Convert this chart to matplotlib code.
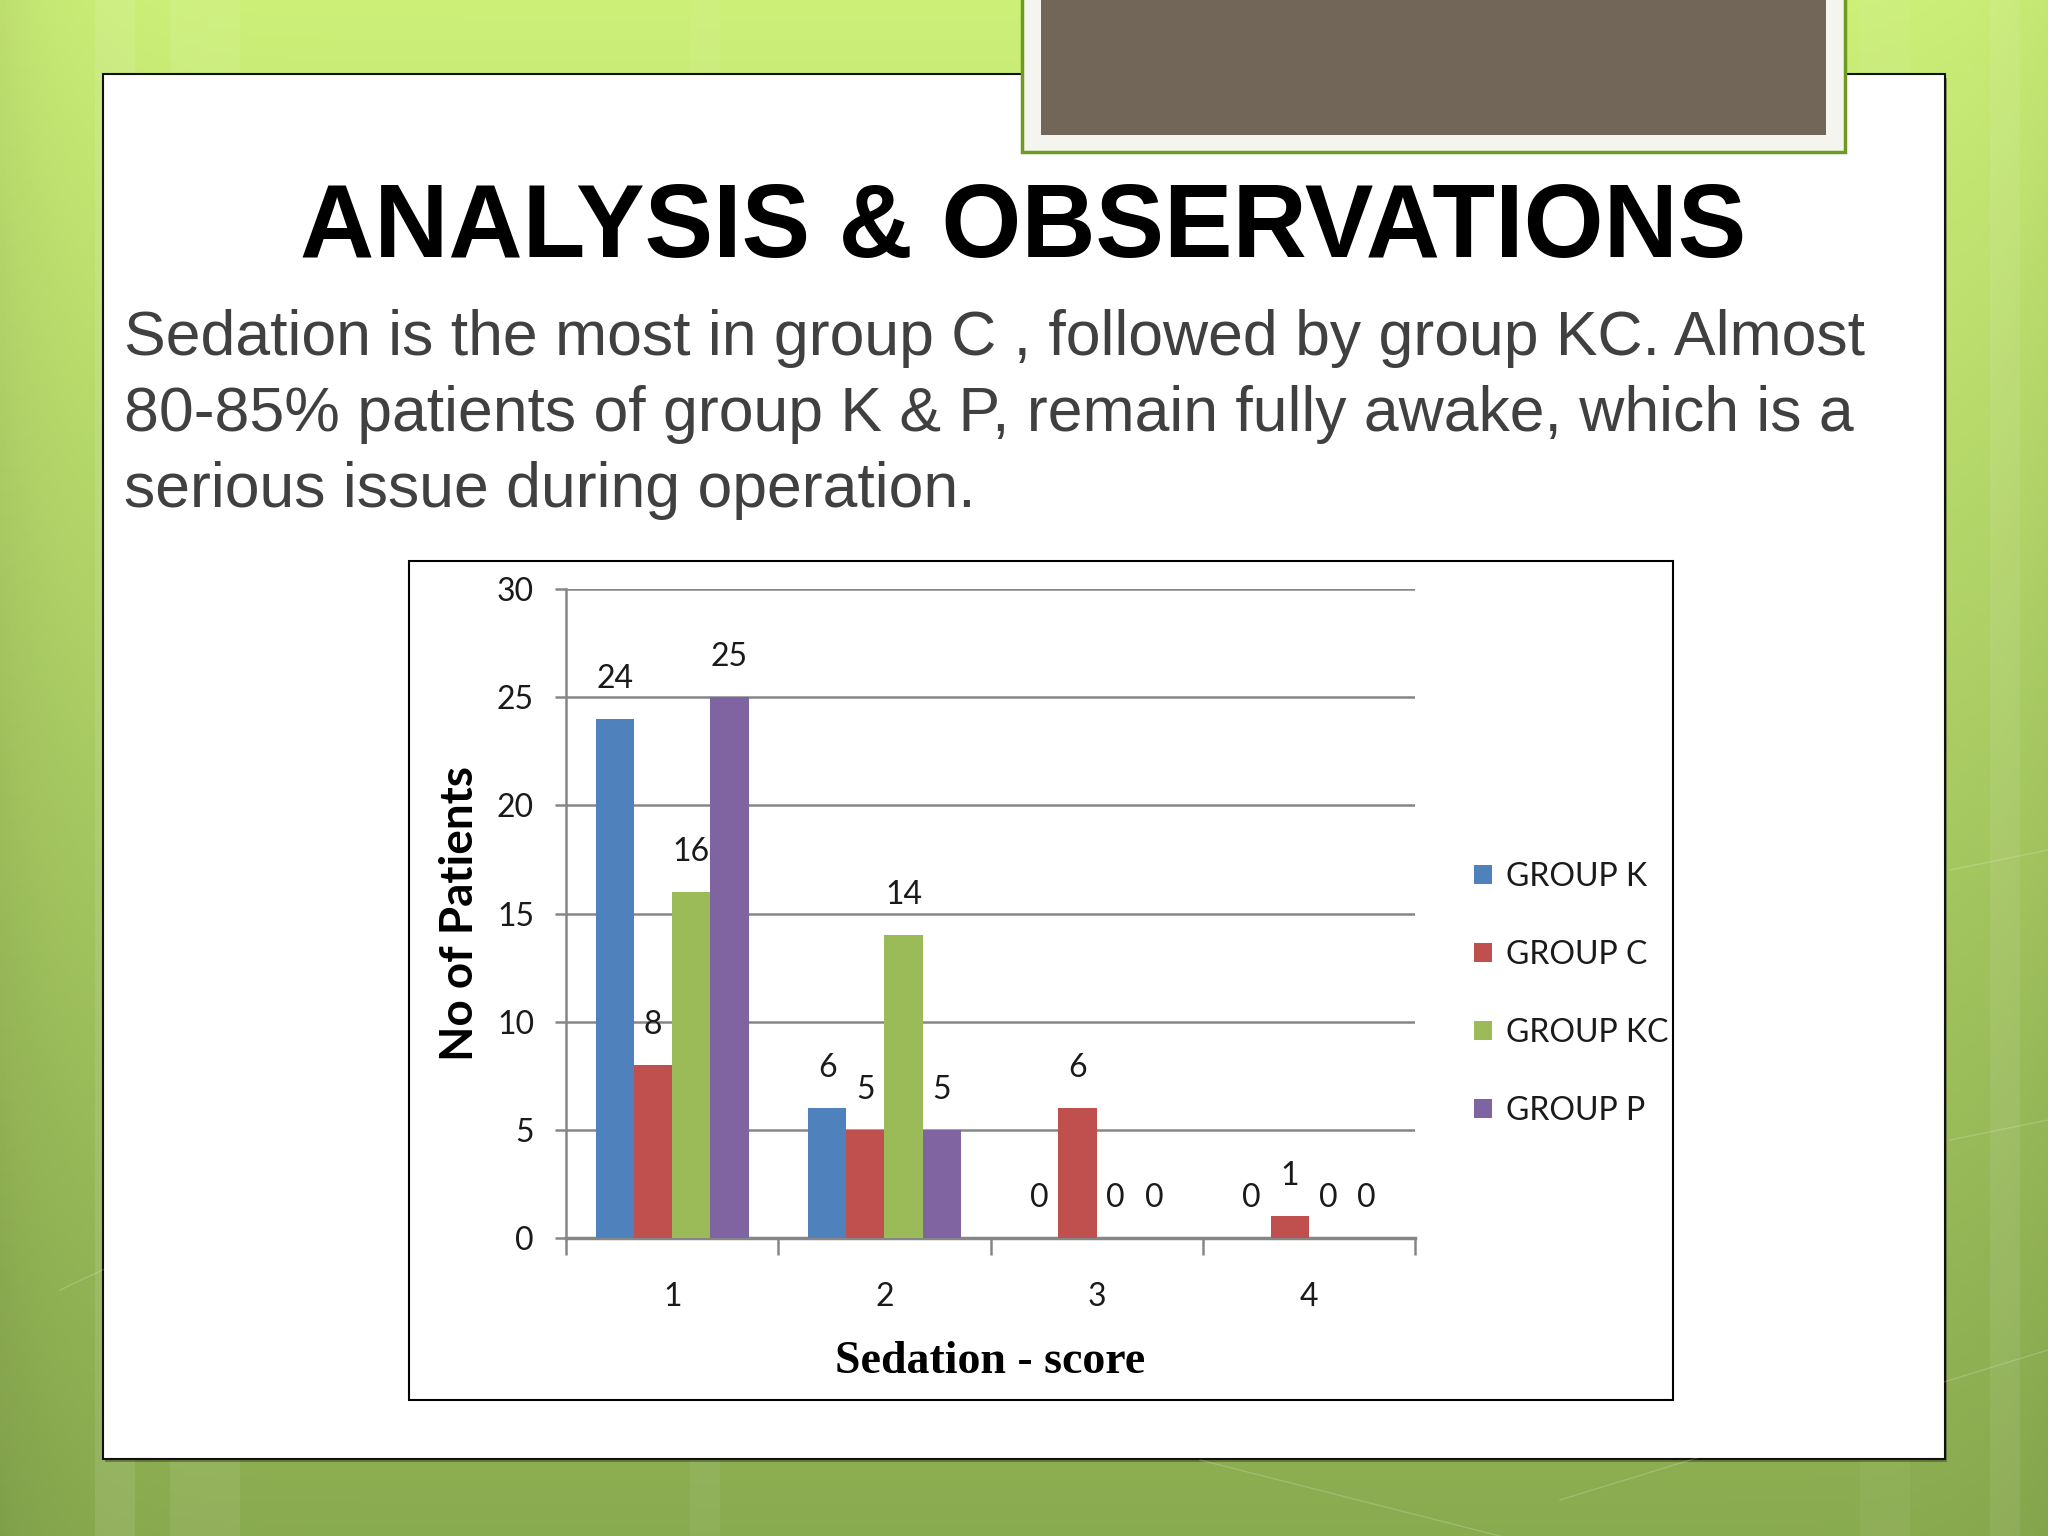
import numpy as np
import matplotlib
matplotlib.use('Agg')
import matplotlib.pyplot as plt
from matplotlib.patches import Rectangle

# chart data
scores = [1, 2, 3, 4]
groups = ['GROUP K', 'GROUP C', 'GROUP KC', 'GROUP P']
group_k = [24, 6, 0, 0]
group_c = [8, 5, 6, 1]
group_kc = [16, 14, 0, 0]
group_p = [25, 5, 0, 0]
colors = ['#4F81BD', '#C0504D', '#9BBB59', '#8064A2']

title = 'ANALYSIS & OBSERVATIONS'
body_lines = [
    'Sedation is the most in group C , followed by group KC. Almost',
    '80-85% patients of group K & P, remain fully awake, which is a',
    'serious issue during operation.',
]

W, H = 2048, 1536
fig = plt.figure(figsize=(W / 100, H / 100), dpi=100)

# slide background: green gradient in pixel coords
bg = fig.add_axes([0, 0, 1, 1])
yy = np.linspace(0, 1, 300)[:, None]
xx = np.linspace(0, 1, 400)[None, :]
top = np.array([0.80, 0.94, 0.47])
bot = np.array([0.54, 0.67, 0.31])
img = top * (1 - yy[..., None]) + bot * yy[..., None]
edge = 1 - 0.07 * np.exp(-xx / 0.03) - 0.04 * np.exp(-(1 - xx) / 0.03)
img = img * edge[..., None] * np.ones((300, 400, 1))
bg.imshow(np.clip(img, 0, 1), extent=[0, W, H, 0], aspect='auto')
# faint light stripes
for x0, w, a in [(95, 40, 0.10), (170, 70, 0.08), (690, 30, 0.06), (1990, 30, 0.08), (1860, 50, 0.05)]:
    bg.add_patch(Rectangle((x0, 0), w, H, color='white', alpha=a, lw=0))
for (x1, y1, x2, y2) in [(60, 1290, 400, 1130), (1200, 1460, 1500, 1536), (1560, 1500, 2048, 1350),
                         (1950, 870, 2048, 850), (1950, 1140, 2048, 1120)]:
    bg.plot([x1, x2], [y1, y2], color='white', alpha=0.18, lw=1)

# white content panel
bg.add_patch(Rectangle((105, 78), 1842, 1384, facecolor='#3a4a2a', lw=0, alpha=0.5))
bg.add_patch(Rectangle((103, 74), 1842, 1385, facecolor='white', edgecolor='#111111', lw=1.5))

# brown placeholder box at top
bg.add_patch(Rectangle((1022, -5), 823, 157, facecolor='#f4f5ef', edgecolor='#6f9a22', lw=2.5))
bg.add_patch(Rectangle((1041, -5), 785, 140, facecolor='#716657', lw=0))

bg.text(1023, 257, title, ha='center', va='baseline', fontsize=74,
        fontweight='bold', family='Liberation Sans', color='black')
for i, line in enumerate(body_lines):
    bg.text(124, 355 + i * 76, line, ha='left', va='baseline', fontsize=45,
            family='Liberation Sans', color='#404040')

# chart frame
bg.add_patch(Rectangle((409, 561), 1264, 839, facecolor='white', edgecolor='black', lw=1.5))
bg.set_xlim(0, W)
bg.set_ylim(H, 0)
bg.axis('off')

# bar chart
ax = fig.add_axes([566 / W, 1 - 1238 / H, 849 / W, 649 / H])
ax.set_facecolor('white')
series = [group_k, group_c, group_kc, group_p]
x = np.arange(len(scores)) + 1
bw = 0.18
txt_color = '#1a1a1a'
for i, (vals, name, c) in enumerate(zip(series, groups, colors)):
    xs = x + (i - 1.5) * bw
    ax.bar(xs, vals, width=bw, color=c, label=name, zorder=3)
    for xv, v in zip(xs, vals):
        ax.annotate(str(v), (xv, v), xytext=(0, 29), textcoords='offset points',
                    ha='center', va='center', fontfamily='Lato', fontsize=23, color=txt_color)

ax.set_xlim(0.5, 4.5)
ax.set_ylim(0, 30)
ax.set_yticks(range(0, 31, 5))
ax.yaxis.grid(True, color='#868686', lw=1.8, zorder=0)
ax.set_axisbelow(True)
for s in ['top', 'right']:
    ax.spines[s].set_visible(False)
ax.spines['left'].set_color('#868686')
ax.spines['left'].set_linewidth(1.8)
ax.spines['bottom'].set_color('#868686')
ax.spines['bottom'].set_linewidth(2.5)
ax.tick_params(axis='y', direction='out', length=8, width=1.8, color='#868686', pad=15)
ax.set_xticks([0.5, 1.5, 2.5, 3.5, 4.5])
ax.set_xticklabels([])
ax.tick_params(axis='x', which='major', direction='out', length=12, width=1.8, color='#868686')
ax.set_xticks(x, minor=True)
ax.set_xticklabels([str(s) for s in scores], minor=True)
ax.tick_params(axis='x', which='minor', length=0, pad=32)
for lab in ax.get_yticklabels() + ax.get_xticklabels(minor=True):
    lab.set_fontfamily('Lato')
    lab.set_fontsize(23)
    lab.set_color(txt_color)

ax.set_ylabel('No of Patients', fontfamily='Lato', fontweight='bold', fontsize=33,
              color='black', va='center')
ax.yaxis.set_label_coords(-0.125, 0.5)
ax.set_xlabel('Sedation - score', fontfamily='Liberation Serif', fontweight='bold',
              fontsize=33, color='black', va='center')
ax.xaxis.set_label_coords(0.5, -0.191)

leg = ax.legend(loc='center left', bbox_to_anchor=(1.036, 0.376), frameon=False,
                prop={'family': 'Lato', 'size': 23}, labelspacing=1.5,
                handlelength=0.55, handleheight=0.55, handletextpad=0.45)
for t in leg.get_texts():
    t.set_color(txt_color)

fig.savefig('out.png', dpi=100)
